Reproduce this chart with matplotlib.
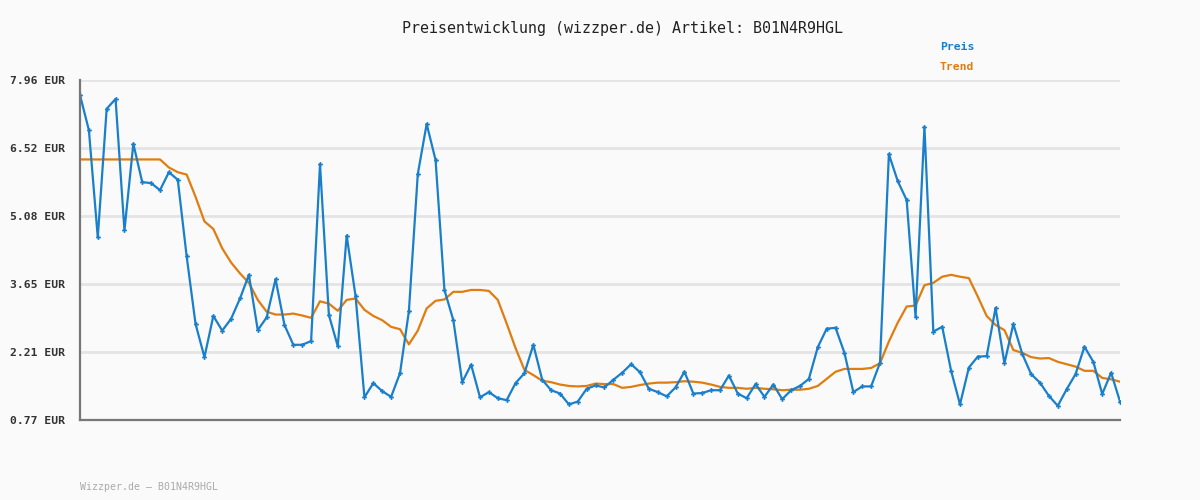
import matplotlib
matplotlib.use("Agg")
import matplotlib.pyplot as plt

title = "Preisentwicklung (wizzper.de) Artikel: B01N4R9HGL"
footer = "Wizzper.de \u2013 B01N4R9HGL"
series_names = ["Preis", "Trend"]
y_ticks = [0.77, 2.21, 3.65, 5.08, 6.52, 7.96]
y_tick_labels = ["0.77 EUR", "2.21 EUR", "3.65 EUR", "5.08 EUR", "6.52 EUR", "7.96 EUR"]

preis = [
    7.64, 6.90, 4.63, 7.35, 7.56, 4.78, 6.61, 5.80, 5.78, 5.63,
    6.01, 5.85, 4.23, 2.80, 2.10, 2.97, 2.66, 2.91, 3.34, 3.84,
    2.67, 2.94, 3.75, 2.78, 2.36, 2.36, 2.44, 6.18, 2.99, 2.33,
    4.67, 3.39, 1.25, 1.55, 1.38, 1.26, 1.76, 3.07, 5.97, 7.03,
    6.27, 3.52, 2.88, 1.57, 1.94, 1.25, 1.36, 1.23, 1.19, 1.55,
    1.76, 2.36, 1.62, 1.40, 1.33, 1.10, 1.16, 1.43, 1.50, 1.46,
    1.62, 1.77, 1.95, 1.78, 1.43, 1.36, 1.27, 1.46, 1.79, 1.33,
    1.34, 1.40, 1.40, 1.71, 1.33, 1.23, 1.53, 1.26, 1.52, 1.21,
    1.40, 1.49, 1.64, 2.31, 2.70, 2.72, 2.19, 1.36, 1.48, 1.48,
    1.98, 6.39, 5.82, 5.42, 2.95, 6.97, 2.64, 2.74, 1.81, 1.10,
    1.88, 2.11, 2.12, 3.14, 1.97, 2.80, 2.17, 1.74, 1.56, 1.28,
    1.07, 1.42, 1.74, 2.32, 2.00, 1.32, 1.77, 1.16,
]

trend = [
    6.28, 6.28, 6.28, 6.28, 6.28, 6.28, 6.28, 6.28, 6.28, 6.28,
    6.11, 6.01, 5.96, 5.49, 4.97, 4.81, 4.40, 4.10, 3.87, 3.67,
    3.31, 3.06, 3.00, 3.00, 3.02, 2.98, 2.93, 3.28, 3.23, 3.08,
    3.31, 3.34, 3.10, 2.97, 2.88, 2.74, 2.69, 2.37, 2.66, 3.13,
    3.29, 3.32, 3.48, 3.48, 3.52, 3.52, 3.50, 3.31, 2.81, 2.29,
    1.83, 1.72, 1.60, 1.57, 1.52, 1.49, 1.48, 1.49, 1.54, 1.53,
    1.53, 1.45, 1.47, 1.51, 1.54, 1.56, 1.56, 1.57, 1.59, 1.58,
    1.56, 1.52, 1.47, 1.45, 1.45, 1.43, 1.45, 1.43, 1.42, 1.40,
    1.41, 1.41, 1.43, 1.49, 1.64, 1.79, 1.85, 1.85, 1.85, 1.87,
    1.97, 2.43, 2.83, 3.17, 3.19, 3.62, 3.67, 3.80, 3.84, 3.80,
    3.77, 3.38, 2.97, 2.78, 2.67, 2.25, 2.19, 2.10, 2.07, 2.08,
    2.00, 1.95, 1.90, 1.81, 1.81, 1.66, 1.63, 1.58,
]

blue = "#1a7fca"
orange = "#e07d10"
bg = "#fafafa"
mono = ["DejaVu Sans Mono"]

fig = plt.figure(figsize=(12, 5), dpi=100, facecolor=bg)
ax = fig.add_axes([80 / 1200, 80 / 500, 1040 / 1200, 340 / 500])
ax.set_facecolor(bg)

x = list(range(len(preis)))
ax.plot(x, trend, color=orange, lw=1.6, zorder=3, solid_joinstyle="round")
ax.plot(x, preis, color=blue, lw=1.6, marker="P", ms=3.5, mew=0,
        zorder=4, solid_joinstyle="round")

ax.set_xlim(0, len(preis) - 1)
ax.set_ylim(y_ticks[0], y_ticks[-1])
ax.set_yticks(y_ticks)
ax.set_yticklabels(y_tick_labels, family=mono, fontsize=8.2,
                   fontweight="bold", color="#333333")
ax.set_xticks([])
ax.tick_params(axis="y", length=0, pad=11)
ax.grid(axis="y", color="#e4e4e4", lw=2, zorder=0)
ax.set_axisbelow(True)
for s in ["top", "right"]:
    ax.spines[s].set_visible(False)
for s in ["left", "bottom"]:
    ax.spines[s].set_color("#777777")
    ax.spines[s].set_linewidth(1.6)
    ax.spines[s].set_zorder(5)

fig.text(623 / 1200, 1 - 28 / 500, title, ha="center", va="center",
         family=mono, fontsize=10.8, color="#222222")
fig.text(940 / 1200, 1 - 47 / 500, series_names[0], ha="left", va="center",
         family=mono, fontsize=8.2, fontweight="bold", color=blue)
fig.text(940 / 1200, 1 - 67 / 500, series_names[1], ha="left", va="center",
         family=mono, fontsize=8.2, fontweight="bold", color=orange)
fig.text(80 / 1200, 1 - 487 / 500, footer, ha="left", va="center",
         family=mono, fontsize=7.1, color="#aaaaaa")

fig.savefig("out.png", dpi=100, facecolor=bg)
